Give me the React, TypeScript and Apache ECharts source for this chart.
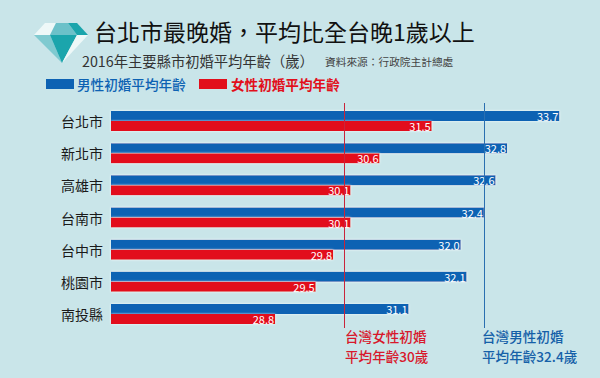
import React, { useEffect, useRef } from "react";
import * as echarts from "echarts";

const categories = ["台北市", "新北市", "高雄市", "台南市", "台中市", "桃園市", "南投縣"];
const maleValues = [33.7, 32.8, 32.6, 32.4, 32.0, 32.1, 31.1];
const femaleValues = [31.5, 30.6, 30.1, 30.1, 29.8, 29.5, 28.8];
const maleName = "男性初婚平均年齡";
const femaleName = "女性初婚平均年齡";
const maleAverage = 32.4;
const femaleAverage = 30;
const titleText = "台北市最晚婚\uFF0C平均比全台晚1歲以上";
const subtitleText = "2016年主要縣市初婚平均年齡\uFF08歲\uFF09";
const sourceText = "資料來源\uFF1A行政院主計總處";

const FONT = '"Noto Sans CJK TC", "Noto Sans", sans-serif';
const BLUE = "#0d62b3";
const RED = "#e20f1b";

const label = (x: number, y: number, text: string, fill: string, fontSize: number, fontWeight: any = "normal") => ({
  type: "text",
  x,
  y,
  style: { text, fill, fontSize, fontWeight, fontFamily: FONT, verticalAlign: "middle", textVerticalAlign: "middle" },
});

export default function App() {
  const ref = useRef<HTMLDivElement>(null);
  useEffect(() => {
    const chart = echarts.init(ref.current!, undefined, { renderer: "svg" });
    const barLabel = {
      show: true,
      position: "insideRight",
      distance: 1,
      color: "#fff",
      fontSize: 11,
      fontFamily: FONT,
      formatter: (p: any) => p.value.toFixed(1),
    };
    const avgLine = (value: number, color: string) => ({
      silent: true,
      symbol: "none",
      label: { show: false },
      lineStyle: { color, width: 1, type: "solid" },
      data: [[{ coord: [value, 0], y: 103 }, { coord: [value, 0], y: 328 }]],
    });
    const halo = { shadowColor: "rgba(255,255,255,0.9)", shadowBlur: 2 };
    chart.setOption({
      animation: false,
      backgroundColor: "#c9e5e9",
      grid: { left: 111, top: 105, width: 465.7, height: 225 },
      xAxis: { type: "value", min: 25.97, max: 34, show: false },
      yAxis: {
        type: "category",
        inverse: true,
        data: categories,
        axisLine: { show: false },
        axisTick: { show: false },
        axisLabel: { color: "#1a1a1a", fontSize: 14, fontFamily: FONT, margin: 8 },
      },
      series: [
        {
          name: maleName,
          type: "bar",
          data: maleValues,
          barWidth: 10,
          barGap: "0%",
          itemStyle: { color: BLUE, ...halo },
          label: barLabel,
          z: 2,
          markLine: avgLine(maleAverage, "#2a6fb0"),
        },
        {
          name: femaleName,
          type: "bar",
          data: femaleValues,
          barWidth: 10,
          barGap: "0%",
          itemStyle: { color: RED, ...halo },
          label: barLabel,
          z: 2,
          markLine: avgLine(femaleAverage, "#c9243a"),
        },
      ],
      graphic: [
        { type: "polygon", shape: { points: [[34, 35], [45, 23], [56, 23], [50, 35]] }, style: { fill: "#eef8f8" } },
        { type: "polygon", shape: { points: [[56, 23], [68, 23], [77, 35], [50, 35]] }, style: { fill: "#6cc1c9" } },
        { type: "polygon", shape: { points: [[68, 23], [77, 23], [88, 35], [77, 35]] }, style: { fill: "#1ba5ac" } },
        { type: "polygon", shape: { points: [[34, 35], [50, 35], [62, 63]] }, style: { fill: "#7fcad0" } },
        { type: "polygon", shape: { points: [[50, 35], [77, 35], [62, 63]] }, style: { fill: "#1ba5ac" } },
        { type: "polygon", shape: { points: [[77, 35], [88, 35], [62, 63]] }, style: { fill: "#eef8f8" } },
        label(94, 31, titleText, "#111", 23),
        label(82, 60, subtitleText, "#333", 14.3),
        label(325, 61, sourceText, "#444", 10.7),
        { type: "rect", shape: { x: 46, y: 79, width: 28, height: 10 }, style: { fill: BLUE } },
        label(77, 84, maleName, BLUE, 13.6, 500),
        { type: "rect", shape: { x: 199, y: 79, width: 28, height: 10 }, style: { fill: RED } },
        label(231, 84, femaleName, RED, 13.6, 700),
        label(345, 335.5, "台灣女性初婚", "#d8182c", 13.6, 500),
        label(345, 355.5, "平均年齡30歲", "#d8182c", 13.6, 500),
        label(482, 335.5, "台灣男性初婚", "#1560a8", 13.6, 500),
        label(482, 355.5, "平均年齡32.4歲", "#1560a8", 13.6, 500),
      ],
    });
    return () => chart.dispose();
  }, []);
  return <div ref={ref} style={{ position: "fixed", left: 0, top: 0, width: 600, height: 378 }} />;
}
